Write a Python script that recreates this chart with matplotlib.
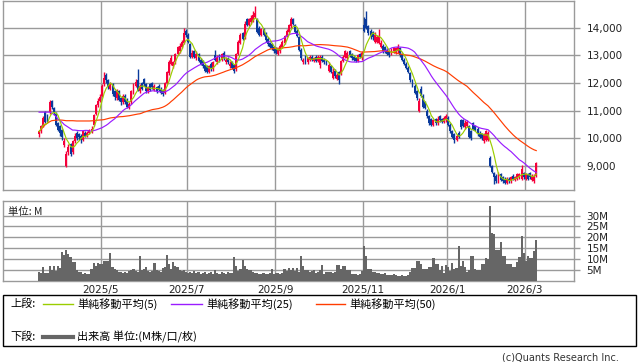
import numpy as np
import pandas as pd
import matplotlib
matplotlib.use("Agg")
import matplotlib.pyplot as plt
from matplotlib.lines import Line2D
from matplotlib.patches import Rectangle

plt.rcParams['font.family'] = ['DejaVu Sans', 'Noto Sans CJK JP']
CJK = ['Noto Sans CJK JP', 'DejaVu Sans']

# trading days (TSE calendar) from 2025/3/18 to 2026/3/9
jp_holidays = ['2025-03-20', '2025-04-29', '2025-05-05', '2025-05-06', '2025-07-21',
               '2025-08-11', '2025-09-15', '2025-09-23', '2025-10-13', '2025-11-03',
               '2025-11-24', '2025-12-31', '2026-01-01', '2026-01-02', '2026-01-12',
               '2026-02-11', '2026-02-23']
dates = pd.bdate_range('2025-03-18', '2026-03-09')
dates = dates[~dates.isin(pd.to_datetime(jp_holidays))]

# daily prices (yen)
opens = [10150, 10250, 10450, 10950, 10800, 10950, 11350, 11100, 10900, 10550,
         10450, 10300, 9750, 9000, 9500, 9800, 9500, 9900, 10200, 10150,
         10100, 9950, 10200, 10100, 10200, 10250, 10500, 10900, 11200, 11350,
         11550, 11950, 12300, 12100, 11800, 11950, 11700, 11450, 11700, 11450,
         11300, 11550, 11400, 11100, 11300, 11650, 11900, 12100, 11700, 12000,
         12150, 11950, 11700, 11950, 12000, 11750, 11850, 11900, 11800, 11750,
         11650, 12000, 12350, 12700, 12600, 12750, 13050, 13150, 13300, 13450,
         13900, 13750, 13400, 12950, 13150, 12900, 13050, 12850, 12800, 12650,
         12600, 12400, 12700, 12500, 13000, 12750, 13000, 12850, 13100, 12750,
         12900, 12600, 12750, 12650, 12500, 13050, 13450, 13800, 13650, 14300,
         14100, 14200, 14250, 14400, 14300, 14000, 13750, 13950, 13800, 13600,
         13450, 13400, 13300, 13250, 13050, 13150, 13300, 13450, 13700, 13850,
         14050, 14300, 14100, 13900, 13650, 13200, 12750, 12950, 12750, 12850,
         12950, 12800, 12950, 12800, 12650, 12950, 12850, 12800, 12450, 12600,
         12200, 12450, 12150, 12400, 12350, 12800, 12950, 12900, 13150, 13050,
         12950, 12900, 12800, 13050, 12900, 14100, 14300, 14050, 13900, 13850,
         13500, 13500, 13450, 13300, 13350, 13300, 13200, 13150, 13050, 13150,
         13100, 13150, 13250, 13050, 12850, 12700, 12550, 12350, 12100, 11900,
         11700, 11000, 11800, 11550, 11300, 11000, 10800, 10700, 10500, 10700,
         10550, 10800, 10700, 10600, 10650, 10750, 10500, 10250, 10150, 9950,
         10200, 10650, 10650, 10400, 10450, 10450, 10250, 10550, 10450, 10350,
         10200, 10150, 9900, 9950, 9950, 9300, 9000, 8750, 8650, 8450,
         8700, 8600, 8550, 8400, 8550, 8450, 8650, 8500, 8550, 8600,
         8550, 8750, 8550, 8700, 8750, 8500, 8450, 8650]
closes = [10250, 10450, 10750, 10600, 10700, 11300, 11150, 10950, 10500, 10300,
          10200, 10050, 9900, 9450, 9700, 9450, 9900, 10100, 10000, 10050,
          9950, 10250, 10100, 10200, 10300, 10350, 10850, 11200, 11350, 11500,
          11900, 12200, 12100, 11850, 11950, 11600, 11500, 11700, 11400, 11300,
          11550, 11300, 11150, 11250, 11700, 11950, 12050, 11750, 11900, 11800,
          11950, 11700, 11850, 11750, 11850, 11900, 11700, 11750, 11650, 11600,
          12000, 12400, 12750, 12900, 12750, 13050, 13300, 13350, 13500, 13800,
          13750, 13500, 12950, 13100, 12950, 13050, 12800, 12700, 12600, 12450,
          12400, 12600, 12550, 12750, 12850, 12950, 12800, 13050, 12900, 12850,
          12750, 12700, 12550, 12450, 13050, 13500, 13750, 13600, 14150, 14100,
          14300, 14350, 14450, 14550, 13850, 13750, 13950, 13750, 13550, 13400,
          13300, 13250, 13150, 13100, 13200, 13350, 13500, 13700, 13900, 14100,
          14300, 14150, 13850, 13700, 13200, 12900, 12850, 12750, 12900, 12950,
          12850, 12900, 12800, 12950, 12950, 12800, 12750, 12700, 12650, 12400,
          12400, 12250, 12300, 12100, 12800, 12950, 13150, 13100, 13000, 12900,
          12850, 12800, 13000, 12950, 13100, 13900, 14000, 13800, 13700, 13650,
          13750, 13650, 13700, 13450, 13150, 13150, 13050, 13000, 13200, 13250,
          13250, 13300, 13000, 12850, 12700, 12550, 12400, 12100, 11900, 11650,
          11450, 11350, 11550, 11150, 11100, 10800, 10550, 10500, 10650, 10550,
          10700, 10650, 10600, 10750, 10800, 10500, 10250, 10050, 9950, 10100,
          10050, 10400, 10450, 10550, 10600, 10050, 10000, 10350, 10300, 10150,
          10050, 10000, 10150, 10250, 10200, 9000, 8800, 8600, 8450, 8750,
          8500, 8450, 8400, 8550, 8450, 8600, 8550, 8600, 8700, 8700,
          8900, 8600, 8700, 8550, 8600, 8650, 8650, 9100]
highs = [10300, 10500, 10800, 11000, 10900, 11400, 11400, 11150, 10950, 10600,
         10500, 10350, 10000, 9550, 9800, 9850, 9950, 10200, 10250, 10200,
         10150, 10300, 10250, 10250, 10350, 10450, 10900, 11250, 11450, 11600,
         11950, 12400, 12350, 12150, 12050, 12000, 11750, 11800, 11750, 11500,
         11600, 11600, 11450, 11300, 11750, 12000, 12150, 12500, 11950, 12050,
         12200, 12000, 11900, 12000, 12050, 11950, 11900, 11950, 11850, 11800,
         12050, 12450, 12850, 13000, 12800, 13100, 13350, 13450, 13550, 14000,
         13950, 13800, 13450, 13200, 13200, 13150, 13100, 12900, 12850, 12700,
         12650, 12650, 12750, 12800, 13200, 13000, 13050, 13100, 13150, 12950,
         12950, 12800, 12800, 12700, 13100, 13550, 13800, 13850, 14250, 14350,
         14350, 14450, 14600, 14800, 14350, 14050, 14000, 14000, 13850, 13650,
         13500, 13450, 13350, 13300, 13250, 13400, 13550, 13750, 13950, 14150,
         14400, 14350, 14150, 13950, 13700, 13250, 12900, 13000, 12950, 13000,
         13000, 12950, 13000, 13000, 13000, 13000, 12900, 12850, 12750, 12650,
         12550, 12500, 12350, 12450, 12850, 13000, 13200, 13150, 13200, 13100,
         13000, 12950, 13050, 13100, 13150, 14400, 14600, 14100, 13950, 13900,
         13850, 13750, 13950, 13550, 13400, 13350, 13250, 13200, 13250, 13300,
         13300, 13400, 13300, 13100, 12900, 12750, 12600, 12400, 12150, 11950,
         11750, 11450, 11900, 11600, 11350, 11050, 10850, 10750, 10700, 10750,
         10800, 10850, 10750, 10800, 10900, 10800, 10550, 10300, 10200, 10150,
         10250, 10700, 10700, 10650, 10650, 10500, 10300, 10600, 10500, 10400,
         10250, 10200, 10200, 10300, 10250, 9350, 9050, 8800, 8700, 8800,
         8750, 8650, 8600, 8600, 8600, 8650, 8700, 8650, 8750, 8750,
         9050, 8800, 8750, 8750, 8800, 8700, 8700, 9150]
lows = [10050, 10200, 10400, 10550, 10600, 10900, 11050, 10850, 10450, 10250,
        10100, 9950, 9700, 8950, 9400, 9350, 9450, 9850, 9950, 9950,
        9850, 9900, 10050, 10050, 10150, 10200, 10450, 10850, 11150, 11300,
        11500, 11900, 12000, 11800, 11750, 11550, 11400, 11400, 11350, 11200,
        11250, 11250, 11100, 11050, 11250, 11600, 11850, 11700, 11650, 11750,
        11900, 11650, 11650, 11700, 11800, 11700, 11650, 11700, 11600, 11550,
        11600, 11950, 12300, 12650, 12550, 12700, 13000, 13100, 13250, 13400,
        13650, 13450, 12900, 12900, 12900, 12850, 12750, 12650, 12550, 12400,
        12350, 12350, 12450, 12450, 12800, 12700, 12750, 12800, 12850, 12700,
        12700, 12550, 12500, 12350, 12450, 13000, 13400, 13550, 13600, 14050,
        14050, 14150, 14200, 14350, 13800, 13700, 13700, 13700, 13500, 13350,
        13250, 13200, 13100, 13050, 13000, 13100, 13250, 13400, 13650, 13800,
        14000, 14100, 13800, 13650, 13150, 12850, 12700, 12700, 12700, 12800,
        12800, 12750, 12750, 12750, 12550, 12750, 12700, 12650, 12400, 12350,
        12150, 12200, 12100, 11950, 12300, 12750, 12900, 12850, 12950, 12850,
        12800, 12750, 12750, 12900, 12850, 13850, 13950, 13750, 13600, 13550,
        13450, 13450, 13400, 13250, 13100, 13100, 13000, 12950, 13000, 13100,
        13050, 13100, 12950, 12800, 12650, 12500, 12350, 12050, 11850, 11600,
        11400, 10950, 11500, 11100, 11050, 10750, 10500, 10450, 10450, 10500,
        10500, 10600, 10550, 10550, 10600, 10450, 10200, 10000, 9850, 9900,
        10000, 10350, 10400, 10350, 10400, 10000, 9950, 10300, 10250, 10100,
        10000, 9950, 9850, 9900, 9900, 8950, 8750, 8350, 8400, 8400,
        8450, 8400, 8350, 8350, 8400, 8400, 8500, 8450, 8500, 8550,
        8500, 8550, 8500, 8500, 8550, 8450, 8400, 8600]

# volume in millions of shares
volume = [4.0, 3.5, 6.5, 3.5, 3.5, 7.0, 5.0, 7.0, 4.5, 7.0,
          6.0, 13.4, 11.8, 14.1, 12.1, 11.0, 8.7, 8.7, 5.0, 4.0,
          4.0, 2.9, 3.8, 2.9, 3.2, 5.5, 8.2, 6.7, 8.2, 7.8,
          7.8, 8.9, 8.9, 8.9, 12.6, 6.2, 5.6, 5.1, 4.0, 4.2,
          3.8, 4.0, 3.5, 4.5, 5.0, 5.5, 4.5, 4.0, 11.3, 5.0,
          5.2, 6.5, 4.5, 4.0, 4.3, 8.4, 5.0, 4.5, 4.0, 6.0,
          6.4, 11.8, 7.6, 5.5, 8.7, 7.0, 6.4, 5.0, 4.5, 4.8,
          4.0, 3.5, 4.0, 3.8, 4.3, 3.5, 4.0, 3.2, 3.5, 4.0,
          3.0, 3.5, 4.2, 3.3, 4.8, 3.8, 3.2, 4.0, 3.5, 3.0,
          4.2, 3.8, 3.8, 11.0, 6.8, 4.5, 5.5, 9.6, 6.8, 5.6,
          5.0, 4.8, 4.0, 3.5, 3.8, 3.3, 3.0, 3.5, 3.0, 3.2,
          3.8, 5.3, 3.0, 3.5, 3.8, 3.2, 3.5, 5.3, 4.5, 5.8,
          5.0, 5.8, 4.5, 5.8, 4.0, 11.3, 6.8, 5.0, 4.8, 4.2,
          4.5, 4.8, 3.8, 4.0, 4.8, 7.1, 3.2, 4.0, 4.0, 4.2,
          3.8, 4.0, 7.1, 7.1, 5.2, 6.6, 6.6, 4.8, 4.8, 3.0,
          3.0, 3.2, 2.8, 3.0, 4.3, 16.0, 11.3, 5.2, 5.2, 4.0,
          4.0, 3.5, 3.5, 3.2, 3.0, 3.5, 2.8, 2.5, 2.8, 3.0,
          2.5, 2.3, 2.3, 2.5, 2.3, 2.2, 2.5, 4.0, 5.9, 5.9,
          9.0, 9.0, 7.8, 5.3, 5.3, 5.3, 6.3, 6.3, 10.5, 7.8,
          7.8, 5.0, 6.7, 3.6, 7.3, 6.5, 4.5, 8.4, 5.5, 6.0,
          16.0, 7.0, 9.2, 6.5, 4.2, 5.0, 11.2, 11.5, 5.5, 5.0,
          5.0, 7.8, 7.8, 10.5, 10.2, 34.2, 22.0, 21.6, 14.2, 14.0,
          17.7, 11.5, 11.5, 7.8, 7.8, 7.5, 6.5, 6.5, 8.8, 11.0,
          20.4, 12.7, 9.0, 11.5, 10.5, 10.5, 13.6, 18.8]

# moving averages before enough history is on the chart
ma25_head = [10950, 10950, 10950, 10950, 10950, 10950, 10920, 10870, 10800, 10700,
             10640, 10580, 10500, 10450, 10400, 10350, 10300, 10300, 10290, 10280,
             10280, 10280, 10290, 10290]
ma50_head = [10240, 10330, 10420, 10500, 10550, 10600, 10640, 10650, 10660, 10665,
             10665, 10660, 10650, 10640, 10640, 10640, 10640, 10635, 10630, 10630,
             10630, 10630, 10630, 10630, 10630, 10635, 10640, 10650, 10660, 10665,
             10670, 10680, 10700, 10720, 10740, 10750, 10760, 10770, 10780, 10785,
             10790, 10800, 10810, 10820, 10835, 10850, 10865, 10880, 10890]

price_ticks = [9000, 10000, 11000, 12000, 13000, 14000]
vol_ticks = [5, 10, 15, 20, 25, 30]

RED = '#f5003a'
BLUE = '#0a3a9c'
GRID = '#9a9a9a'
C_MA5 = '#9acd00'
C_MA25 = '#9a1cff'
C_MA50 = '#ff3c00'

o = np.array(opens, dtype=float)
c = np.array(closes, dtype=float)
h = np.array(highs, dtype=float)
l = np.array(lows, dtype=float)
x = np.arange(len(c))

close_s = pd.Series(c)
ma5 = close_s.rolling(5, min_periods=1).mean()
ma25 = close_s.rolling(25).mean()
ma25.iloc[:len(ma25_head)] = ma25_head
ma50 = close_s.rolling(50).mean()
ma50.iloc[:len(ma50_head)] = ma50_head

# month grid every 2 months, on the boundary before the first trading day
month_pos, month_lab = [], []
for i in range(1, len(dates)):
    if dates[i].month != dates[i - 1].month and dates[i].month % 2 == 1:
        month_pos.append(i - 0.5)
        month_lab.append(f"{dates[i].year}/{dates[i].month}")

W, H = 638, 362
fig = plt.figure(figsize=(W / 100, H / 100), dpi=100)
ax_p = fig.add_axes([3 / W, 1 - 190 / H, 571 / W, 189.5 / H])
ax_v = fig.add_axes([3 / W, 1 - 280.8 / H, 571 / W, 79.8 / H])

# candles
up = c >= o
cols = np.where(up, RED, BLUE)
body_lo = np.minimum(o, c)
body_h = np.maximum(np.abs(c - o), 25)
ax_p.vlines(x, l, h, colors=cols, lw=1.0, zorder=3)
ax_p.bar(x, body_h, bottom=body_lo, width=0.92, color=cols, linewidth=0, zorder=3)

ax_p.plot(x, ma50, color=C_MA50, lw=0.85, zorder=4)
ax_p.plot(x, ma25, color=C_MA25, lw=0.85, zorder=4)
ax_p.plot(x, ma5, color=C_MA5, lw=0.85, zorder=5)

# volume bars
ax_v.bar(x, volume, width=1.0, color='#666666', linewidth=0, zorder=3)

xlim = (-17.2, 255.0)
for ax in (ax_p, ax_v):
    ax.set_xlim(*xlim)
    ax.set_xticks(month_pos)
    ax.grid(True, color=GRID, lw=1.0, zorder=0)
    ax.yaxis.tick_right()
    ax.tick_params(axis='y', length=4, width=1.0, color=GRID, labelsize=7.5,
                   pad=5, labelcolor='#222222')
    ax.tick_params(axis='x', length=0)
    for s in ax.spines.values():
        s.set_color(GRID)
        s.set_linewidth(1.0)

ax_p.set_ylim(8135, 14985)
ax_p.set_yticks(price_ticks)
ax_p.set_yticklabels([f"{v:,}" for v in price_ticks])
ax_p.set_xticklabels([])

ax_v.set_ylim(0, 36.7)
ax_v.set_yticks(vol_ticks)
ax_v.set_yticklabels([f"{v}M" for v in vol_ticks])
ax_v.set_xticklabels(month_lab, fontsize=7.5, color='#222222')
ax_v.tick_params(axis='x', pad=3)
ax_v.text(5 / 571, 0.93, '単位: M', transform=ax_v.transAxes, family=CJK,
          fontsize=7.5, va='top', ha='left', color='#222222')

# legend box
fig.add_artist(Rectangle((3 / W, 1 - 346 / H), 633 / W, 51 / H, transform=fig.transFigure,
                         fill=False, edgecolor='black', lw=1.0))
r1 = 1 - 304 / H
r2 = 1 - 337 / H
fig.text(10 / W, r1, '上段:', family=CJK, fontsize=8, va='center')
items = [(43, 73, 77, C_MA5, '単純移動平均(5)'),
         (171, 202, 206, C_MA25, '単純移動平均(25)'),
         (316, 345, 349, C_MA50, '単純移動平均(50)')]
for x0, x1, xt, col, lab in items:
    fig.add_artist(Line2D([x0 / W, x1 / W], [r1, r1], color=col, lw=1.0,
                          transform=fig.transFigure))
    fig.text(xt / W, r1, lab, family=CJK, fontsize=8, va='center')
fig.text(10 / W, r2, '下段:', family=CJK, fontsize=8, va='center')
fig.add_artist(Line2D([43 / W, 73 / W], [r2, r2], color='#666666', lw=3.0,
                      transform=fig.transFigure))
fig.text(77 / W, r2, '出来高 単位:(M株/口/枚)', family=CJK, fontsize=8, va='center')

fig.text(619 / W, 1 - 357 / H, '(c)Quants Research Inc.', fontsize=7, ha='right',
         va='center', color='#333333')

fig.savefig('out.png', dpi=100)
